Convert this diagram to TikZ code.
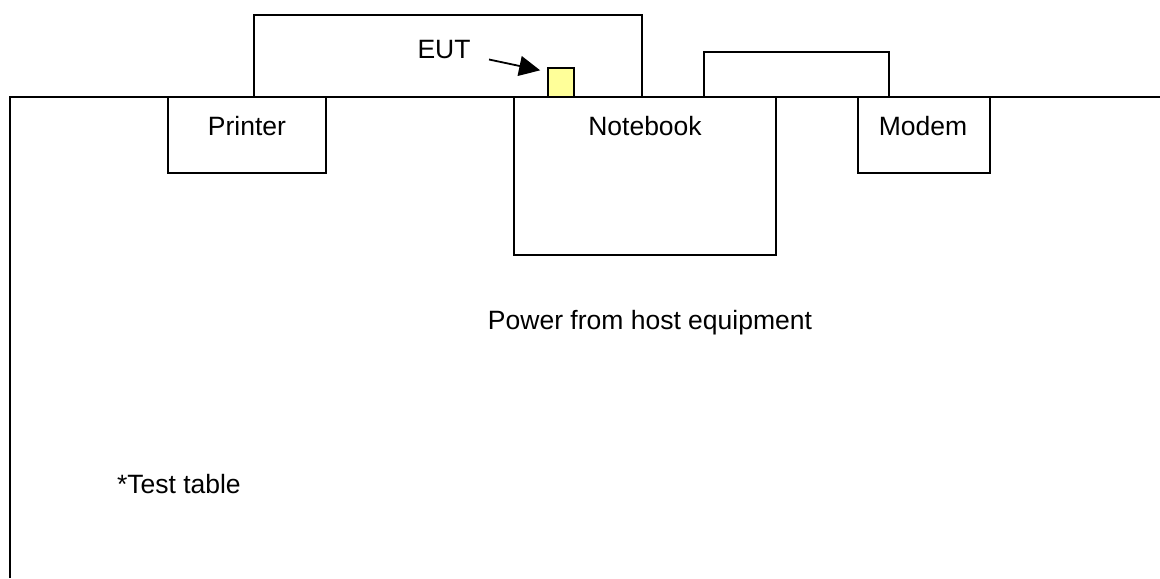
\documentclass[tikz,border=0pt]{standalone}
\usepackage{fontspec}
\setmainfont{Liberation Sans}
\usetikzlibrary{arrows.meta, positioning}

\definecolor{eutyellow}{HTML}{FFFF99}

\begin{document}
\begin{tikzpicture}[x=0.5pt, y=-0.5pt, line width=1pt,
  unit/.style={draw, fill=white, inner sep=0pt, outer sep=0pt},
  lbl/.style={font=\fontsize{13.25}{16}\selectfont, anchor=base, inner sep=0pt}]
\useasboundingbox (0,0) rectangle (1160,578);

% Test table edge
\draw (10,578) -- (10,97) -- (1160,97);

% Boxes standing behind the table edge
\draw (254,97) -- (254,15) -- (642,15) -- (642,97);
\draw (704,97) -- (704,52) -- (889,52) -- (889,97);

% Equipment on the table
\node[unit, minimum width=79pt, minimum height=38pt] (printer) at (247,135) {};
\node[unit, minimum width=131pt, minimum height=79pt] (notebook) at (645,176) {};
\node[unit, minimum width=66pt, minimum height=38pt] (modem) at (924,135) {};
\node[unit, fill=eutyellow, minimum width=13pt, minimum height=14.5pt] (eutbox) at (561,82.5) {};

\node[lbl] (printerlbl) at (247,135) {Printer};
\node[lbl] (notebooklbl) at (645,135) {Notebook};
\node[lbl] (modemlbl) at (923,135) {Modem};

% EUT pointer
\node[lbl] (eut) at (444,58) {EUT};
\coordinate (eutfrom) at (489,59.5);
\draw[line width=0.9pt, -{Triangle[length=10.5pt, width=10pt]}, shorten >=4pt]
  (eutfrom) -- ([yshift=-2pt]eutbox.north west);

\node[lbl] (power) at (650,329) {Power from host equipment};
\node[lbl, anchor=base west] (table) at (116,493) {*Test table};

\end{tikzpicture}
\end{document}
